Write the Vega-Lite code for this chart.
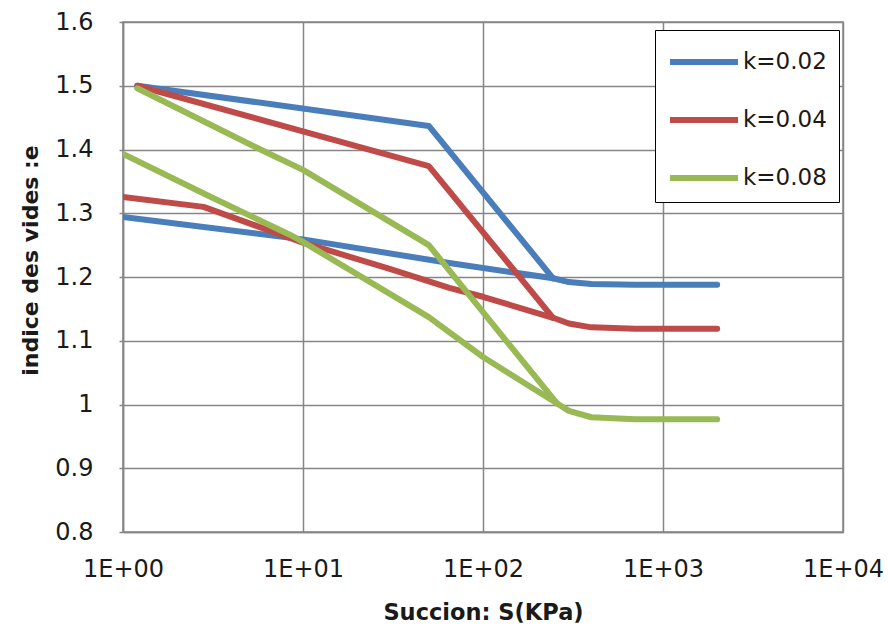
{
  "$schema": "https://vega.github.io/schema/vega-lite/v6.json",
  "width": 720,
  "height": 510,
  "autosize": "none",
  "padding": {"left": 123, "top": 22, "right": 45, "bottom": 110},
  "background": "white",
  "config": {
    "view": {"stroke": "#868686", "strokeWidth": 1.5},
    "font": "DejaVu Sans"
  },
  "data": {
    "values": [
      {"k": "k=0.02", "branch": "u", "S": 1.2, "e": 1.5},
      {"k": "k=0.02", "branch": "u", "S": 50, "e": 1.437},
      {"k": "k=0.02", "branch": "u", "S": 245, "e": 1.198},
      {"k": "k=0.02", "branch": "l", "S": 1, "e": 1.294},
      {"k": "k=0.02", "branch": "l", "S": 10, "e": 1.259},
      {"k": "k=0.02", "branch": "l", "S": 65, "e": 1.222},
      {"k": "k=0.02", "branch": "l", "S": 245, "e": 1.198},
      {"k": "k=0.02", "branch": "l", "S": 300, "e": 1.192},
      {"k": "k=0.02", "branch": "l", "S": 400, "e": 1.189},
      {"k": "k=0.02", "branch": "l", "S": 700, "e": 1.188},
      {"k": "k=0.02", "branch": "l", "S": 2000, "e": 1.188},
      {"k": "k=0.04", "branch": "u", "S": 1.2, "e": 1.5},
      {"k": "k=0.04", "branch": "u", "S": 50, "e": 1.374},
      {"k": "k=0.04", "branch": "u", "S": 245, "e": 1.136},
      {"k": "k=0.04", "branch": "l", "S": 1, "e": 1.3255},
      {"k": "k=0.04", "branch": "l", "S": 2.8, "e": 1.31},
      {"k": "k=0.04", "branch": "l", "S": 10, "e": 1.254},
      {"k": "k=0.04", "branch": "l", "S": 30, "e": 1.213},
      {"k": "k=0.04", "branch": "l", "S": 65, "e": 1.183},
      {"k": "k=0.04", "branch": "l", "S": 100, "e": 1.169},
      {"k": "k=0.04", "branch": "l", "S": 245, "e": 1.136},
      {"k": "k=0.04", "branch": "l", "S": 300, "e": 1.127},
      {"k": "k=0.04", "branch": "l", "S": 400, "e": 1.121},
      {"k": "k=0.04", "branch": "l", "S": 700, "e": 1.119},
      {"k": "k=0.04", "branch": "l", "S": 2000, "e": 1.119},
      {"k": "k=0.08", "branch": "u", "S": 1.2, "e": 1.496},
      {"k": "k=0.08", "branch": "u", "S": 5.8, "e": 1.4},
      {"k": "k=0.08", "branch": "u", "S": 10, "e": 1.368},
      {"k": "k=0.08", "branch": "u", "S": 22.7, "e": 1.308},
      {"k": "k=0.08", "branch": "u", "S": 50, "e": 1.25},
      {"k": "k=0.08", "branch": "u", "S": 257, "e": 1.002},
      {"k": "k=0.08", "branch": "l", "S": 1, "e": 1.393},
      {"k": "k=0.08", "branch": "l", "S": 3, "e": 1.327},
      {"k": "k=0.08", "branch": "l", "S": 8.5, "e": 1.266},
      {"k": "k=0.08", "branch": "l", "S": 10, "e": 1.255},
      {"k": "k=0.08", "branch": "l", "S": 50, "e": 1.137},
      {"k": "k=0.08", "branch": "l", "S": 100, "e": 1.0745},
      {"k": "k=0.08", "branch": "l", "S": 257, "e": 1.002},
      {"k": "k=0.08", "branch": "l", "S": 300, "e": 0.99},
      {"k": "k=0.08", "branch": "l", "S": 400, "e": 0.98},
      {"k": "k=0.08", "branch": "l", "S": 700, "e": 0.977},
      {"k": "k=0.08", "branch": "l", "S": 2000, "e": 0.977}
    ]
  },
  "mark": {"type": "line", "strokeWidth": 6, "strokeCap": "round", "strokeJoin": "round", "clip": true},
  "encoding": {
    "x": {
      "field": "S",
      "type": "quantitative",
      "scale": {"type": "log", "domain": [1, 10000], "nice": false},
      "axis": {
        "title": "Succion: S(KPa)",
        "values": [1, 10, 100, 1000, 10000],
        "labelExpr": "'1E+0' + round(log(datum.value) / LN10)",
        "labelFlush": false,
        "grid": true,
        "gridColor": "#868686",
        "gridWidth": 1.5,
        "domainColor": "#868686",
        "domainWidth": 1.5,
        "ticks": false,
        "labelPadding": 25,
        "labelFontSize": 24,
        "labelColor": "#1a1a1a",
        "labelFont": "DejaVu Sans",
        "titleFont": "DejaVu Sans",
        "titleFontSize": 22.5,
        "titleFontWeight": "bold",
        "titleColor": "#1a1a1a",
        "titlePadding": 20
      }
    },
    "y": {
      "field": "e",
      "type": "quantitative",
      "scale": {"domain": [0.8, 1.6], "nice": false, "zero": false},
      "axis": {
        "title": "indice des vides :e",
        "values": [0.8, 0.9, 1, 1.1, 1.2, 1.3, 1.4, 1.5, 1.6],
        "format": "~g",
        "grid": true,
        "gridColor": "#868686",
        "gridWidth": 1.5,
        "domainColor": "#868686",
        "domainWidth": 1.5,
        "tickColor": "#868686",
        "tickSize": 4,
        "tickWidth": 1.5,
        "labelPadding": 26,
        "labelFontSize": 24,
        "labelColor": "#1a1a1a",
        "labelFont": "DejaVu Sans",
        "titleFont": "DejaVu Sans",
        "titleFontSize": 22,
        "titleFontWeight": "bold",
        "titleColor": "#1a1a1a",
        "titleX": -86,
        "titleY": 238,
        "titleAlign": "center",
        "titleBaseline": "alphabetic",
        "titleAngle": -90
      }
    },
    "color": {
      "field": "k",
      "type": "nominal",
      "scale": {"domain": ["k=0.02", "k=0.04", "k=0.08"], "range": ["#4A7EBB", "#BE4B48", "#98B954"]},
      "legend": {
        "title": null,
        "orient": "none",
        "legendX": 532,
        "legendY": 8,
        "fillColor": "white",
        "strokeColor": "black",
        "padding": 12,
        "symbolType": "M-1,0H3",
        "symbolSize": 1156,
        "symbolStrokeWidth": 6,
        "labelFontSize": 23,
        "labelFont": "DejaVu Sans",
        "labelColor": "#1a1a1a",
        "labelOffset": 36,
        "rowPadding": 26
      }
    },
    "detail": {"field": "branch", "type": "nominal"}
  }
}
